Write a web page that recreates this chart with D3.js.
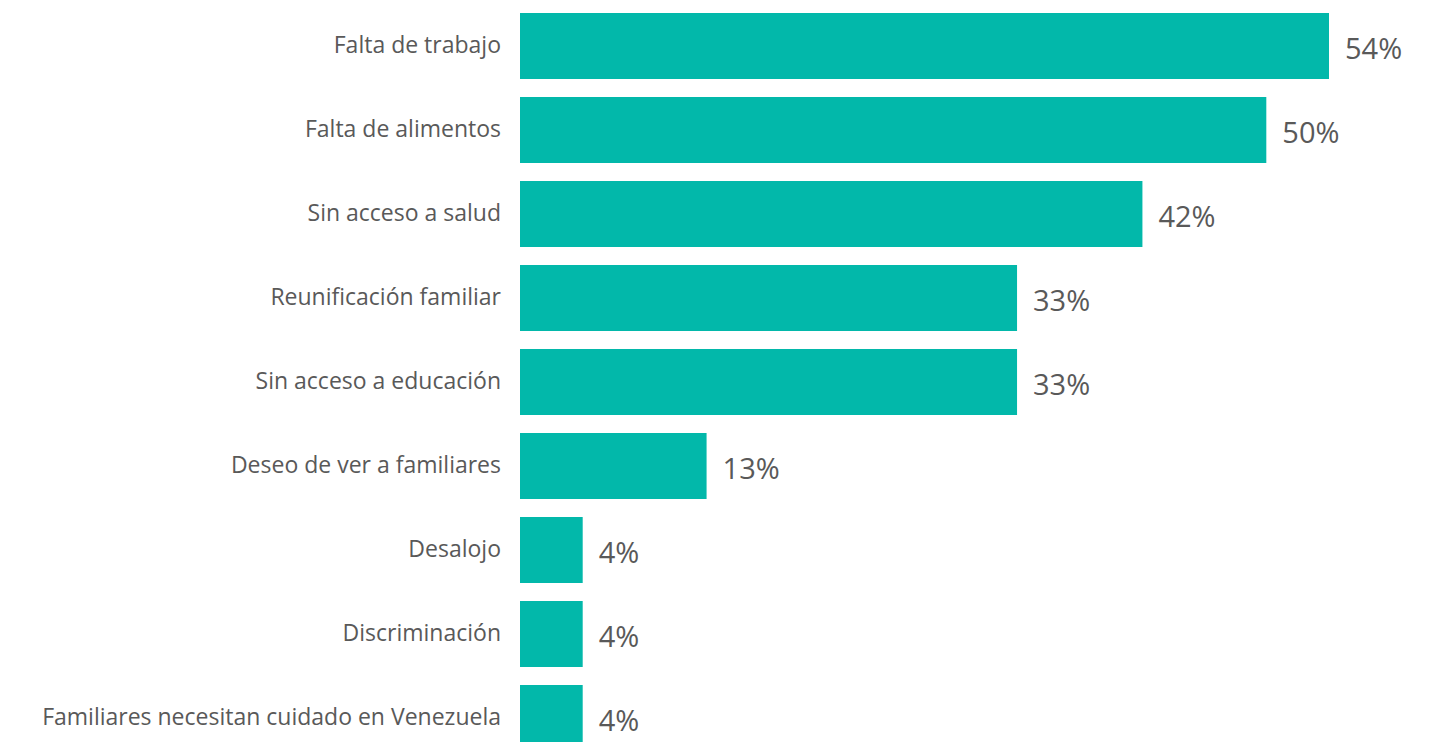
<!DOCTYPE html>
<html lang="es">
<head>
  <meta charset="UTF-8">
  <title>Motivos de salida</title>
  <style>
    body { margin: 0; background: #fff; }
    .cat text { font: 23px "Open Sans", sans-serif; fill: #595959; }
    .val { font: 29px "Open Sans", sans-serif; fill: #595959; }
  </style>
  <script src="https://d3js.org/d3.v7.min.js"></script>
</head>
<body>
  <div id="chart"></div>
  <script>
    var categories = [
      'Falta de trabajo',
      'Falta de alimentos',
      'Sin acceso a salud',
      'Reunificación familiar',
      'Sin acceso a educación',
      'Deseo de ver a familiares',
      'Desalojo',
      'Discriminación',
      'Familiares necesitan cuidado en Venezuela'
    ];
    // percentages (labels are rounded)
    var values = [54.2, 50, 41.7, 33.3, 33.3, 12.5, 4.2, 4.2, 4.2];

    var width = 1433, height = 742;
    var left = 520;

    var svg = d3.select('#chart').append('svg')
      .attr('width', width)
      .attr('height', height);

    var x = d3.scaleLinear().domain([0, 54.2]).range([left, 1329]);
    var y = d3.scaleBand().domain(categories).range([4, 760])
      .paddingInner(18 / 84).paddingOuter(9 / 84);

    var yAxis = d3.axisLeft(y).tickSize(0).tickPadding(19);
    var g = svg.append('g').attr('class', 'cat')
      .attr('transform', 'translate(' + left + ',0)')
      .call(yAxis);
    g.select('.domain').remove();
    g.selectAll('text').attr('dy', '0.32em');

    var data = categories.map(function(c, i) { return {name: c, value: values[i]}; });

    svg.selectAll('.bar').data(data).enter().append('rect')
      .attr('class', 'bar')
      .attr('x', x(0))
      .attr('y', function(d) { return y(d.name); })
      .attr('width', function(d) { return x(d.value) - x(0); })
      .attr('height', y.bandwidth())
      .attr('fill', '#02B8AA');

    svg.selectAll('.val').data(data).enter().append('text')
      .attr('class', 'val')
      .attr('x', function(d) { return x(d.value) + 16; })
      .attr('y', function(d) { return y(d.name) + y.bandwidth() / 2 + 3; })
      .attr('dy', '0.35em')
      .text(function(d) { return Math.round(d.value) + '%'; });
  </script>
</body>
</html>
